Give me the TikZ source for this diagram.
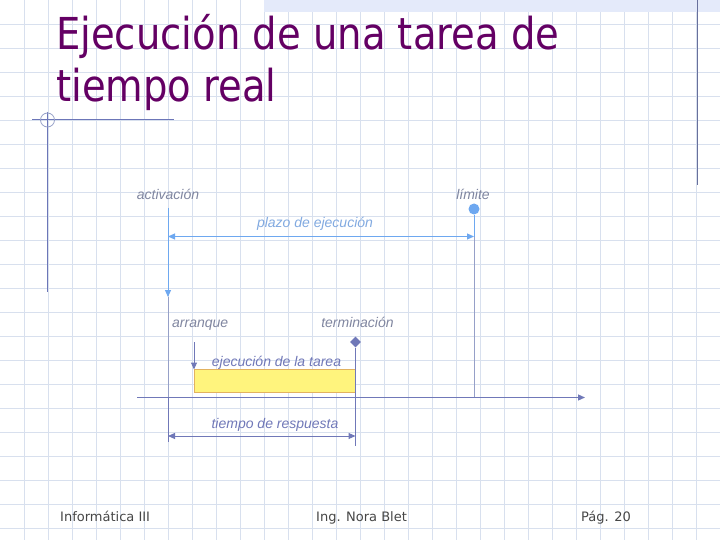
\documentclass[tikz,border=0pt]{standalone}
\usepackage{fontspec}
\setmainfont{Liberation Sans}
\newfontfamily\titlefont[FakeStretch=0.876]{DejaVu Sans}
\newfontfamily\footfont{DejaVu Sans}
\usetikzlibrary{arrows.meta,shapes.geometric}
\definecolor{gridc}{RGB}{216,224,238}
\definecolor{bandc}{RGB}{228,234,250}
\definecolor{decoc}{RGB}{108,118,184}
\definecolor{darkline}{RGB}{104,112,156}
\definecolor{titlec}{RGB}{100,0,100}
\definecolor{lblue}{RGB}{110,168,240}
\definecolor{lbluetxt}{RGB}{130,170,225}
\definecolor{slate}{RGB}{112,120,184}
\definecolor{graytxt}{RGB}{128,134,160}
\definecolor{faint}{RGB}{150,160,200}
\definecolor{yel}{RGB}{255,244,125}
\definecolor{yelb}{RGB}{226,178,96}
\definecolor{foot}{RGB}{70,70,70}
\tikzset{
  lbl/.style={inner sep=0pt, font=\fontsize{14}{16}\selectfont\itshape},
  titletxt/.style={inner sep=0pt, anchor=base west, text=titlec, font=\titlefont\fontsize{44}{52}\selectfont},
  foottxt/.style={inner sep=0pt, anchor=base west, text=foot, font=\footfont\fontsize{13}{15}\selectfont},
  tip/.style={-{Triangle[length=7pt,width=6pt]}},
  tips/.style={{Triangle[length=7pt,width=6pt]}-{Triangle[length=7pt,width=6pt]}},
}
\begin{document}
\begin{tikzpicture}[x=1pt,y=-1pt]
\useasboundingbox (0,0) rectangle (720,540);
\fill[white] (0,0) rectangle (720,540);
% grid
\foreach \i in {1,...,29} \draw[gridc, line width=1pt] (24*\i+0.5,0) -- (24*\i+0.5,540);
\foreach \j in {1,...,22} \draw[gridc, line width=1pt] (0,24*\j+0.5) -- (720,24*\j+0.5);
% top band and decorations
\fill[bandc] (264,0) rectangle (720,12);
\coordinate (dl1) at (697,0); \coordinate (dl2) at (697,185);
\draw[darkline, line width=1pt] (dl1) -- (dl2);
\coordinate (h1) at (32,119.5); \coordinate (h2) at (174,119.5);
\coordinate (v1) at (47.5,112); \coordinate (v2) at (47.5,292);
\draw[decoc, line width=1pt] (h1) -- (h2);
\draw[decoc, line width=1pt] (v1) -- (v2);
\node[circle, draw=faint, line width=0.8pt, minimum size=14pt, inner sep=0pt] (ring) at (47.5,120) {};
% title
\node[titletxt] (t1) at (56,50) {Ejecución de una tarea de};
\node[titletxt] (t2) at (56,102) {tiempo real};
% labels
\node[lbl, anchor=base, text=graytxt] (act) at (168,200) {activación};
\node[lbl, anchor=base, text=graytxt] (lim) at (473,200) {límite};
\node[lbl, anchor=base, text=lbluetxt] (plazo) at (315,228) {plazo de ejecución};
\node[lbl, anchor=base west, text=graytxt] (arr) at (172,327) {arranque};
\node[lbl, anchor=base, text=graytxt] (term) at (357.5,327) {terminación};
\node[lbl, anchor=base, text=slate] (ejec) at (276.5,366) {ejecución de la tarea};
\node[lbl, anchor=base, text=slate] (resp) at (275,428) {tiempo de respuesta};
% coordinates
\coordinate (a0) at (168,208);
\coordinate (a1) at (168,297);
\coordinate (a2) at (168,397.5);
\coordinate (a3) at (168,442);
\coordinate (p0) at (168,236.5);
\coordinate (p1) at (474,236.5);
\node[circle, fill=lblue, minimum size=11pt, inner sep=0pt] (dot) at (474,209) {};
\coordinate (l1) at (474,397.5);
\coordinate (ax0) at (137,397.5);
\coordinate (ax1) at (585,397.5);
\coordinate (s0) at (194,342);
\coordinate (s1) at (194,369.5);
\node[diamond, fill=slate, minimum size=11pt, inner sep=0pt] (dia) at (355.5,342) {};
\coordinate (e1) at (355.5,446);
\coordinate (r0) at (168,436);
\coordinate (r1) at (355.5,436);
% vertical lines
\draw[lblue, line width=1pt, tip] (a0) -- (a1);
\draw[faint, line width=0.6pt] (a1) -- (a2);
\draw[slate, line width=1pt] (a2) -- (a3);
\draw[lblue, line width=1pt] (dot) -- (p1);
\draw[faint, line width=0.6pt] (p1) -- (l1);
% plazo arrow
\draw[lblue, line width=1pt, tips] (p0) -- (p1);
% task box
\fill[yel] (194,369.5) rectangle (355.5,392.5);
\draw[yelb, line width=0.8pt] (194,369.5) rectangle (355.5,392.5);
\draw[slate, line width=1pt, tip] (s0) -- (s1);
\draw[slate, line width=1pt] (dia) -- (e1);
% axis
\draw[slate, line width=1.2pt, tip] (ax0) -- (ax1);
% response arrow
\draw[slate, line width=1pt, tips] (r0) -- (r1);
% footer
\node[foottxt] (f1) at (60,521) {Informática III};
\node[foottxt] (f2) at (316,521) {Ing. Nora Blet};
\node[foottxt] (f3) at (581,521) {Pág. 20};
\end{tikzpicture}
\end{document}
